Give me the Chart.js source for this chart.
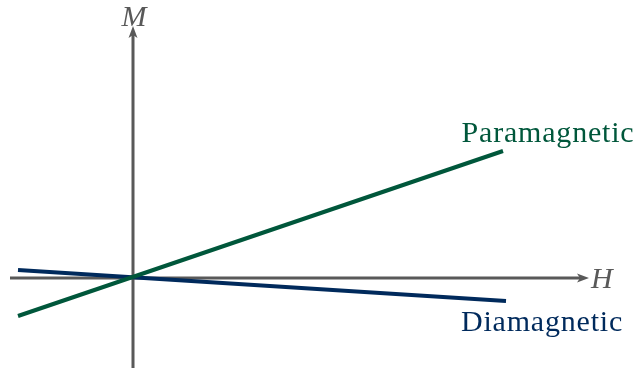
<!DOCTYPE html>
<html><head><meta charset="utf-8">
<script src="https://cdn.jsdelivr.net/npm/chart.js@4"></script>
<style>html,body{margin:0;padding:0;background:#fff}#wrap{width:636px;height:372px}</style>
</head><body><div id="wrap"><canvas id="c" width="636" height="372"></canvas></div>
<script>
// Field values (H) and magnetization values (M)
const hValues = [-11.5, 37.0];
const paramagneticM = [-3.8, 12.7];
const hValuesDia = [-11.5, 37.3];
const diamagneticM = [0.8, -2.3];
const seriesNames = ['Paramagnetic', 'Diamagnetic'];
const axisLabels = ['H', 'M'];
const hAxisExtent = [-12.3, 45.4];
const mAxisExtent = [-9.0, 25.0];

const GREEN = '#00573b';
const NAVY = '#002a5c';
const GRAY = '#595959';

const axesPlugin = {
  id: 'axesArrows',
  beforeDatasetsDraw(chart) {
    const {ctx, scales: {x, y}} = chart;
    ctx.save();
    ctx.strokeStyle = GRAY; ctx.fillStyle = GRAY; ctx.lineWidth = 3;
    const x0 = x.getPixelForValue(0), y0 = y.getPixelForValue(0);
    const xl = x.getPixelForValue(hAxisExtent[0]), xr = x.getPixelForValue(hAxisExtent[1]);
    const yb = y.getPixelForValue(mAxisExtent[0]), yt = y.getPixelForValue(mAxisExtent[1]);
    ctx.beginPath(); ctx.moveTo(xl, y0); ctx.lineTo(xr - 5, y0); ctx.stroke();
    ctx.beginPath(); ctx.moveTo(x0, yb); ctx.lineTo(x0, yt + 5); ctx.stroke();
    // arrowheads
    ctx.beginPath(); ctx.moveTo(xr + 2, y0); ctx.lineTo(xr - 10, y0 - 4.5); ctx.lineTo(xr - 7, y0); ctx.lineTo(xr - 10, y0 + 4.5); ctx.closePath(); ctx.fill();
    ctx.beginPath(); ctx.moveTo(x0, yt - 2); ctx.lineTo(x0 - 4.5, yt + 10); ctx.lineTo(x0, yt + 7); ctx.lineTo(x0 + 4.5, yt + 10); ctx.closePath(); ctx.fill();
    ctx.font = 'italic 30px "Liberation Serif", serif';
    ctx.textBaseline = 'alphabetic';
    ctx.textAlign = 'left';
    ctx.fillText(axisLabels[0], xr + 4, y0 + 10);
    ctx.textAlign = 'center';
    ctx.fillText(axisLabels[1], x0 + 1, yt - 2);
    ctx.restore();
  },
  afterDatasetsDraw(chart) {
    const {ctx} = chart;
    ctx.save();
    ctx.font = '30px "Liberation Serif", serif';
    ctx.letterSpacing = '0.8px';
    ctx.textAlign = 'center'; ctx.textBaseline = 'alphabetic';
    const offsets = [[45, -9], [36, 30]];
    chart.data.datasets.forEach((ds, i) => {
      const pts = chart.getDatasetMeta(i).data;
      const p = pts[pts.length - 1];
      ctx.fillStyle = ds.borderColor;
      ctx.fillText(ds.label, p.x + offsets[i][0], p.y + offsets[i][1]);
    });
    ctx.restore();
  }
};

new Chart(document.getElementById('c'), {
  type: 'scatter',
  data: {
    datasets: [
      { label: seriesNames[0], data: hValues.map((h, i) => ({x: h, y: paramagneticM[i]})),
        showLine: true, borderColor: GREEN, borderWidth: 4, pointRadius: 0, borderCapStyle: 'butt' },
      { label: seriesNames[1], data: hValuesDia.map((h, i) => ({x: h, y: diamagneticM[i]})),
        showLine: true, borderColor: NAVY, borderWidth: 4, pointRadius: 0, borderCapStyle: 'butt' }
    ]
  },
  options: {
    responsive: false, animation: false, maintainAspectRatio: false,
    layout: { padding: 0 },
    plugins: { legend: { display: false }, tooltip: { enabled: false } },
    scales: {
      x: { type: 'linear', min: -13.3, max: 50.3, display: false },
      y: { type: 'linear', min: -9.4, max: 27.8, display: false }
    }
  },
  plugins: [axesPlugin]
});
</script></body></html>
